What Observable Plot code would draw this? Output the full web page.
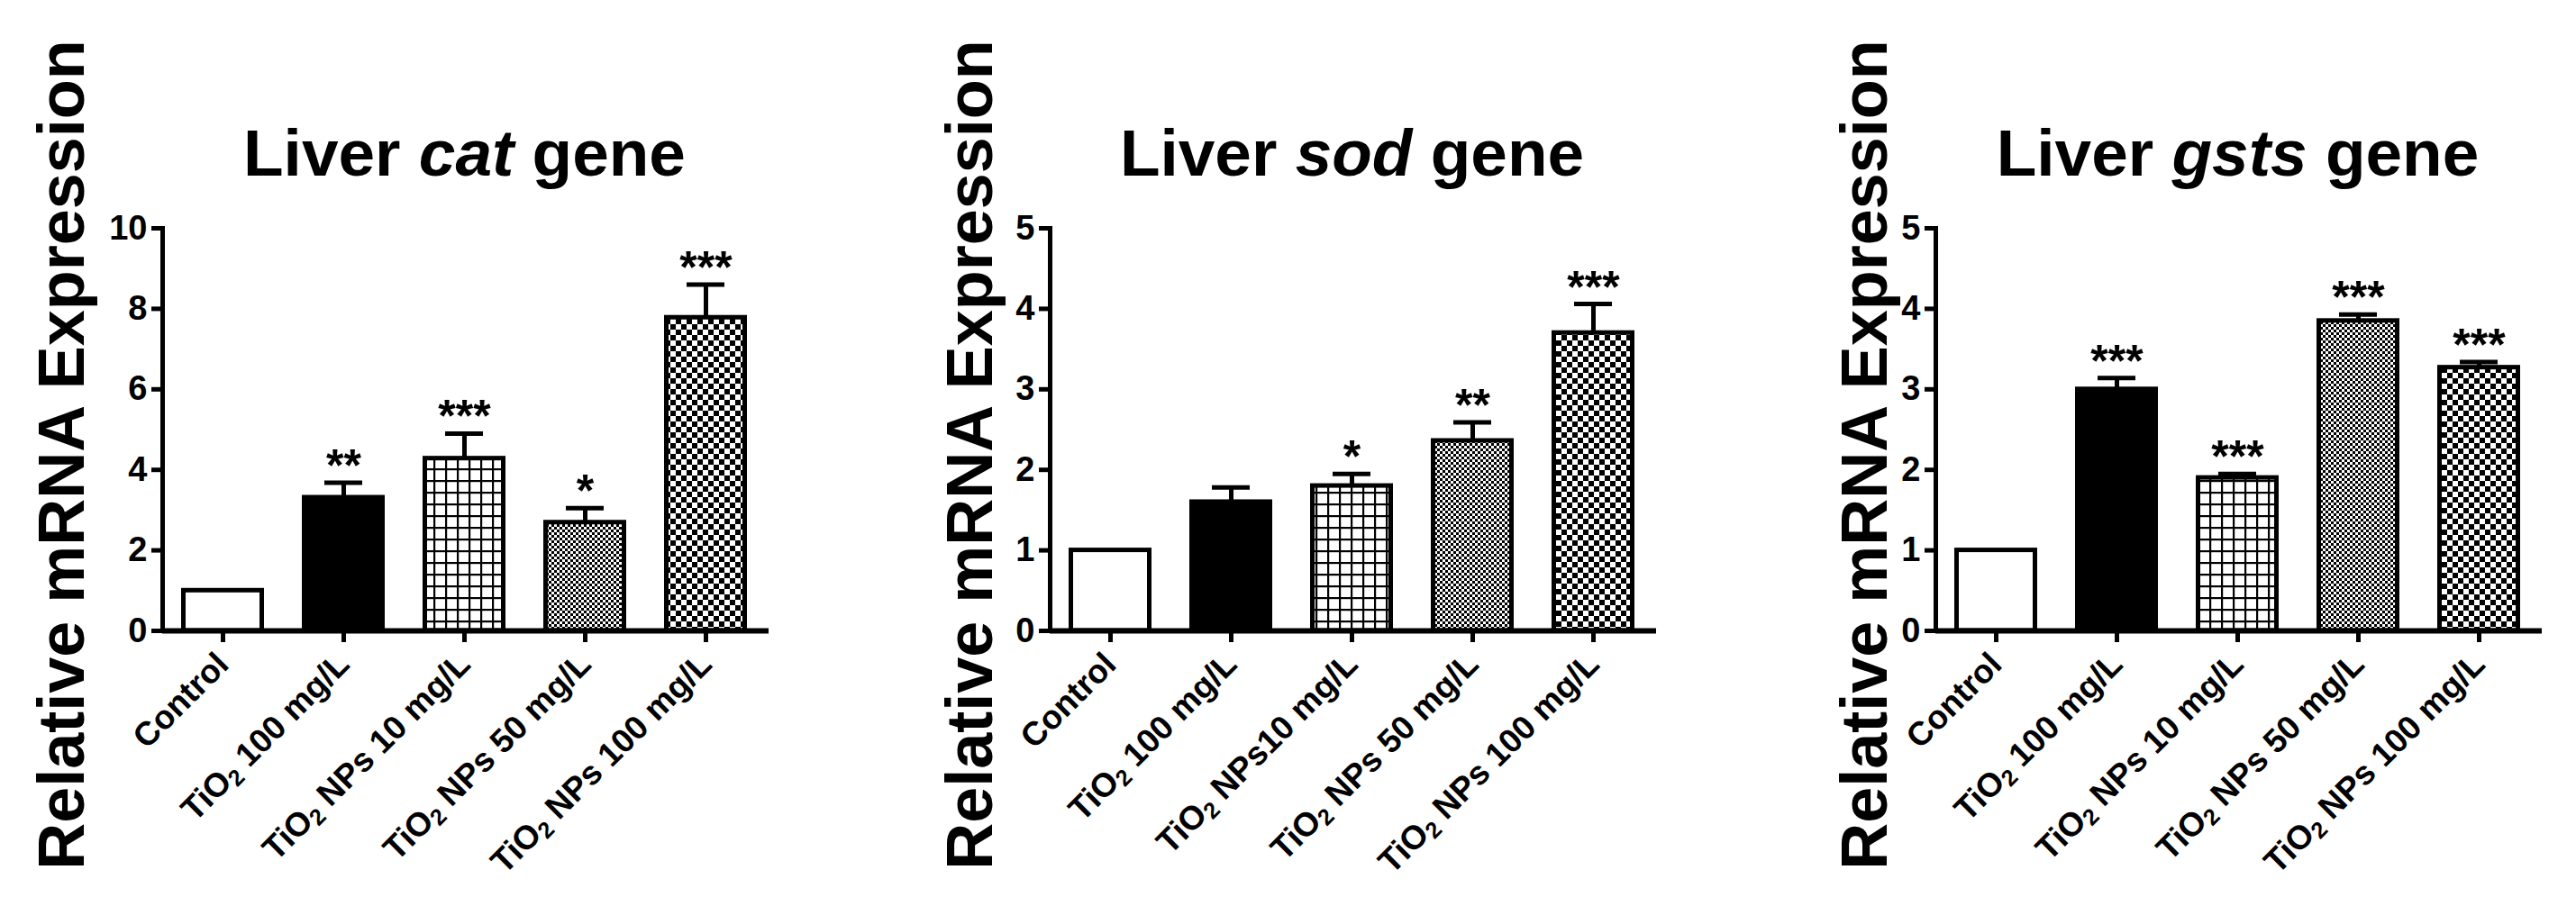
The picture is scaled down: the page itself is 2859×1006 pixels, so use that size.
<!DOCTYPE html>
<html><head><meta charset="utf-8">
<script src="https://cdn.jsdelivr.net/npm/d3@7"></script>
<script src="https://cdn.jsdelivr.net/npm/@observablehq/plot@0.6"></script>
<style>
html,body{margin:0;padding:0;background:#fff;}
#row{display:flex;width:2859px;height:1006px;overflow:hidden;}
#row svg{flex:none;}
</style></head><body>
<svg id="defs" width="0" height="0" style="position:absolute">
<defs>
<pattern id="pGrid" patternUnits="userSpaceOnUse" width="13" height="13">
 <rect width="13" height="13" fill="#fff"/>
 <rect x="0" y="0" width="13" height="2.2" fill="#000"/>
 <rect x="0" y="0" width="2.2" height="13" fill="#000"/>
</pattern>
<pattern id="pFine" patternUnits="userSpaceOnUse" width="6" height="6">
 <rect width="6" height="6" fill="#fff"/>
 <rect x="0" y="0" width="3" height="3" fill="#000"/>
 <rect x="3" y="3" width="3" height="3" fill="#000"/>
</pattern>
<pattern id="pCoarse" patternUnits="userSpaceOnUse" width="12" height="12">
 <rect width="12" height="12" fill="#fff"/>
 <rect x="0" y="0" width="6" height="6" fill="#000"/>
 <rect x="6" y="6" width="6" height="6" fill="#000"/>
</pattern>
</defs>
</svg>
<div id="row"></div>
<script>
// ---- data ----
const groups = ["Control", "TiO2 100 mg/L", "TiO2 NPs 10 mg/L", "TiO2 NPs 50 mg/L", "TiO2 NPs 100 mg/L"];
const sodLabels = ["Control", "TiO2 100 mg/L", "TiO2 NPs10 mg/L", "TiO2 NPs 50 mg/L", "TiO2 NPs 100 mg/L"];
const yLabel = "Relative mRNA Expression";

const catTitle = ["Liver ", "cat", " gene"];
const catMean = [1.0, 3.31, 4.28, 2.69, 7.78];
const catErr  = [0, 0.37, 0.62, 0.36, 0.82];
const catStars = ["", "**", "***", "*", "***"];
const catTicks = [0, 2, 4, 6, 8, 10];

const sodTitle = ["Liver ", "sod", " gene"];
const sodMean = [1.0, 1.60, 1.80, 2.36, 3.70];
const sodErr  = [0, 0.18, 0.15, 0.23, 0.36];
const sodStars = ["", "", "*", "**", "***"];
const sodTicks = [0, 1, 2, 3, 4, 5];

const gstTitle = ["Liver ", "gsts", " gene"];
const gstMean = [1.0, 3.0, 1.90, 3.85, 3.27];
const gstErr  = [0, 0.14, 0.05, 0.08, 0.07];
const gstStars = ["", "***", "***", "***", "***"];
const gstTicks = [0, 1, 2, 3, 4, 5];

// ---- styles ----
const fills = ["#ffffff", "#000000", "url(#pGrid)", "url(#pFine)", "url(#pCoarse)"];

function chart(cfg) {
  const data = cfg.labels.map((c, i) => ({cat: c, mean: cfg.mean[i], err: cfg.err[i], hi: cfg.mean[i] + cfg.err[i], star: cfg.stars[i], idx: i}));
  const withErr = data.filter(d => d.err > 0);
  const titleText = cfg.title.join("");
  const svg = Plot.plot({
    width: 953, height: 1006,
    marginLeft: cfg.ml, marginRight: 953 - cfg.ml - 670, marginTop: 253, marginBottom: 306,
    style: {fontFamily: "'Liberation Sans', Arial, sans-serif", fontWeight: "bold", fontSize: "38px", color: "#000", background: "#fff", overflow: "visible"},
    x: {domain: cfg.labels, paddingInner: 0.31, paddingOuter: 0.155, label: null},
    y: {domain: [0, cfg.ymax], label: null},
    color: {type: "identity"},
    marks: [
      Plot.barY(data, {x: "cat", y: "mean", fill: d => fills[d.idx], stroke: "#000", strokeWidth: 5, insetLeft: 2.5, insetRight: 2.5}),
      Plot.ruleX(withErr, {x: "cat", y1: "mean", y2: "hi", stroke: "#000", strokeWidth: 5}),
      Plot.tickY(withErr, {x: "cat", y: "hi", stroke: "#000", strokeWidth: 5, insetLeft: 25, insetRight: 25}),
      Plot.text(data, {x: "cat", y: "hi", text: "star", lineAnchor: "bottom", dy: -2, fontSize: 50}),
      Plot.ruleY([0], {stroke: "#000", strokeWidth: 6, insetRight: -3}),
      Plot.frame({anchor: "left", stroke: "#000", strokeWidth: 5}),
      Plot.axisY({ticks: cfg.ticks, tickFormat: d => String(d), tickSize: 12, tickPadding: 5, strokeWidth: 5, fontSize: 38, label: null}),
      Plot.axisX({tickSize: 13, tickPadding: 18, tickRotate: -45, strokeWidth: 5, fontSize: 37, label: null}),
      Plot.text([titleText], {frameAnchor: "top", lineAnchor: "bottom", dy: -59, fontSize: 73}),
      Plot.text([yLabel], {frameAnchor: "left", textAnchor: "middle", rotate: -90, lineAnchor: "bottom", dx: cfg.ylabDx, dy: 28, fontSize: 72})
    ]
  });
  // italic gene name in the title, subscript 2 in TiO2
  svg.querySelectorAll("text").forEach(t => {
    if (t.textContent === titleText) {
      t.textContent = "";
      cfg.title.forEach((s, i) => {
        const ts = document.createElementNS("http://www.w3.org/2000/svg", "tspan");
        ts.textContent = s;
        if (i === 1) ts.setAttribute("font-style", "italic");
        t.appendChild(ts);
      });
    } else if (t.textContent.startsWith("TiO2")) {
      const rest = t.textContent.slice(4);
      t.textContent = "TiO";
      const sub = document.createElementNS("http://www.w3.org/2000/svg", "tspan");
      sub.textContent = "2"; sub.setAttribute("font-size", "0.68em"); sub.setAttribute("dy", "0.22em");
      const r = document.createElementNS("http://www.w3.org/2000/svg", "tspan");
      r.textContent = rest; r.setAttribute("dy", "-0.15em");
      t.appendChild(sub); t.appendChild(r);
    }
  });
  return svg;
}

const row = document.getElementById("row");
row.appendChild(chart({labels: groups, mean: catMean, err: catErr, stars: catStars, ticks: catTicks, ymax: 10, title: catTitle, ml: 180, ylabDx: -88}));
row.appendChild(chart({labels: sodLabels, mean: sodMean, err: sodErr, stars: sodStars, ticks: sodTicks, ymax: 5, title: sodTitle, ml: 212, ylabDx: -65}));
row.appendChild(chart({labels: groups, mean: gstMean, err: gstErr, stars: gstStars, ticks: gstTicks, ymax: 5, title: gstTitle, ml: 242, ylabDx: -55}));
</script>
</body></html>
